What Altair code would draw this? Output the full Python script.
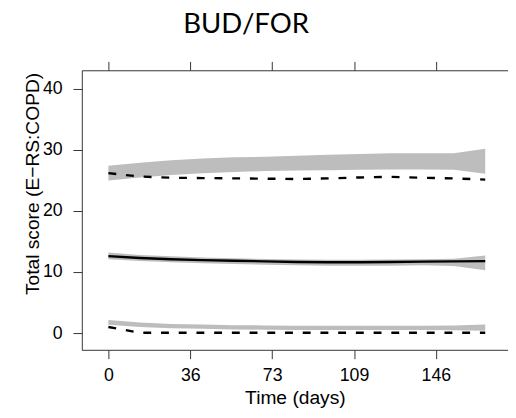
import altair as alt
import pandas as pd

# ---- data ----
days = [0, 14, 28, 42, 56, 70, 84, 98, 112, 126, 140, 154, 168]

upper_lo = [25.0, 25.5, 25.9, 26.2, 26.4, 26.55, 26.65, 26.7, 26.75, 26.8, 26.8, 26.75, 26.1]
upper_hi = [27.4, 27.9, 28.3, 28.6, 28.8, 28.9, 29.05, 29.2, 29.35, 29.45, 29.45, 29.45, 30.2]
upper_line = [26.2, 25.65, 25.45, 25.4, 25.35, 25.3, 25.25, 25.35, 25.5, 25.6, 25.45, 25.35, 25.15]

mid_lo = [12.1, 11.8, 11.6, 11.45, 11.3, 11.2, 11.1, 11.05, 11.05, 11.05, 11.1, 11.0, 10.3]
mid_hi = [13.2, 12.8, 12.6, 12.4, 12.25, 12.15, 12.05, 12.0, 12.0, 12.05, 12.1, 12.2, 12.7]
mid_line = [12.6, 12.3, 12.1, 11.95, 11.85, 11.75, 11.65, 11.6, 11.6, 11.65, 11.7, 11.75, 11.8]

low_lo = [1.35, 1.0, 0.8, 0.7, 0.6, 0.55, 0.5, 0.5, 0.5, 0.5, 0.5, 0.45, 0.4]
low_hi = [2.15, 1.75, 1.5, 1.4, 1.3, 1.25, 1.2, 1.2, 1.2, 1.2, 1.2, 1.25, 1.4]
low_line = [1.0, 0.05, 0.05, 0.05, 0.05, 0.05, 0.05, 0.05, 0.05, 0.05, 0.05, 0.05, 0.05]

x_ticks = [0, 36.5, 73, 109.5, 146]
y_ticks = [0, 10, 20, 30, 40]

bands = pd.DataFrame({
    "day": days * 3,
    "lo": upper_lo + mid_lo + low_lo,
    "hi": upper_hi + mid_hi + low_hi,
    "grp": ["upper"] * len(days) + ["mid"] * len(days) + ["low"] * len(days),
})
dashed = pd.DataFrame({
    "day": days * 2,
    "lo": upper_line + low_line,
    "grp": ["upper"] * len(days) + ["low"] * len(days),
})
solid = pd.DataFrame({"day": days, "lo": mid_line})

FONT = "Liberation Sans"
AX = "#333333"

xscale = alt.Scale(domain=[-11.85, 178.15], nice=False, zero=False)
yscale = alt.Scale(domain=[-2.74, 43.06], nice=False, zero=False)

x_bottom = alt.X(
    "day:Q", scale=xscale,
    axis=alt.Axis(
        orient="bottom", values=x_ticks, labelExpr="floor(datum.value)",
        title="Time (days)", titleFont=FONT, titleFontSize=19.5, titleFontWeight="normal",
        titleColor="black", titleBaseline="alphabetic", titleY=55,
        labelFont=FONT, labelFontSize=18, labelColor="black", labelPadding=8,
        tickSize=9, tickColor=AX, domainColor=AX, grid=False,
    ),
)
y_axis = alt.Axis(
    orient="left", values=y_ticks,
    title="Total score (E\u2212RS:COPD)", titleFont=FONT, titleFontSize=19.5,
    titleFontWeight="normal", titleColor="black", titleBaseline="alphabetic",
    titleX=-44, titleY=115, titleAlign="center", titleAngle=270,
    labelFont=FONT, labelFontSize=18, labelColor="black", labelPadding=11,
    tickSize=9, tickColor=AX, domainColor=AX, grid=False,
)
y_enc = alt.Y("lo:Q", scale=yscale, axis=y_axis)

band_layer = alt.Chart(bands).mark_area(color="#bdbdbd", opacity=1).encode(
    x=x_bottom, y=y_enc, y2="hi:Q", detail="grp:N"
)

dashed_layer = alt.Chart(dashed).mark_line(
    color="black", strokeWidth=2.4, strokeDash=[8, 10]
).encode(
    x=alt.X("day:Q", scale=xscale,
            axis=alt.Axis(orient="top", values=x_ticks, labels=False, title=None,
                          tickSize=9, tickColor=AX, domainColor=AX, grid=False)),
    y=y_enc,
    detail="grp:N",
)

solid_layer = alt.Chart(solid).mark_line(color="black", strokeWidth=2.4).encode(
    x=alt.X("day:Q", scale=xscale, axis=None),
    y=y_enc,
)

chart = (
    alt.layer(band_layer, dashed_layer, solid_layer)
    .resolve_axis(x="independent")
    .properties(
        width=433, height=284,
        autosize=alt.AutoSizeParams(type="none"),
        padding={"left": 75, "top": 60, "right": 0, "bottom": 66},
        title=alt.TitleParams(
            "BUD/FOR", font="Lato", fontSize=28, fontWeight="normal", color="black",
            anchor="start", frame="group", dx=103, baseline="alphabetic", offset=0,
        ),
    )
    .configure_view(stroke=None)
)

chart.save("out.html", embed_options={"renderer": "svg", "actions": False})
